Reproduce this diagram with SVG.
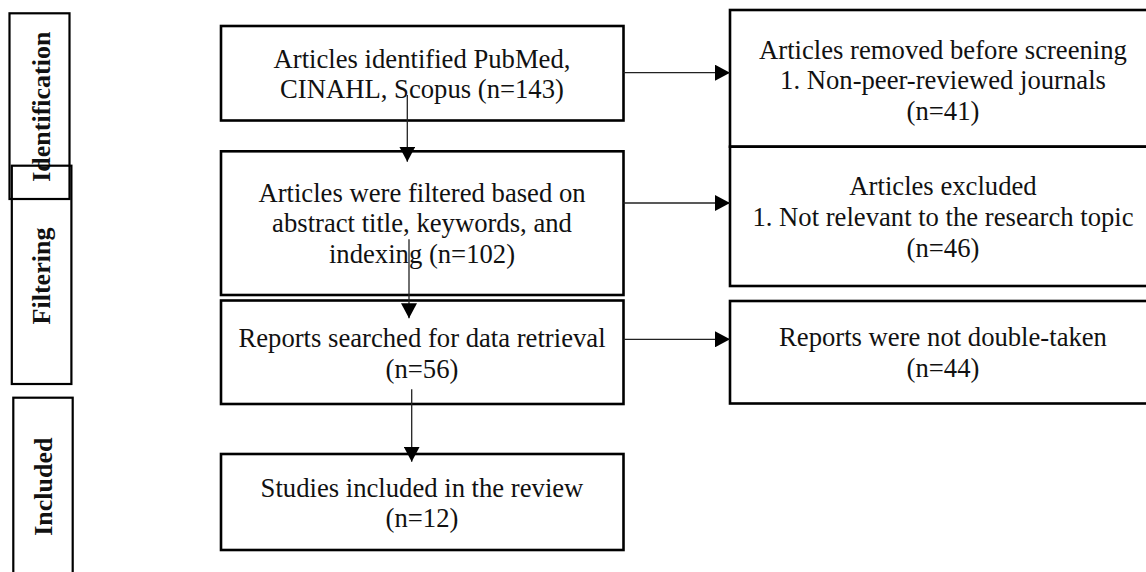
<svg xmlns="http://www.w3.org/2000/svg" width="1146" height="572" viewBox="0 0 1146 572">
  <style>
    .box { fill: none; stroke: #000; stroke-width: 2.6; }
    .lab { fill: none; stroke: #000; stroke-width: 2.2; }
    .t { font-family: "Liberation Serif", "Times New Roman", serif; font-size: 26.67px; fill: #111; text-anchor: middle; }
    .lt { font-family: "Liberation Serif", "Times New Roman", serif; font-size: 26px; font-weight: bold; fill: #111; text-anchor: middle; }
    .conn { stroke: #222; stroke-width: 1.3; fill: none; marker-end: url(#ah); }
  </style>
  <defs>
    <marker id="ah" markerUnits="userSpaceOnUse" markerWidth="16" markerHeight="16" refX="15" refY="8" orient="auto">
      <path d="M0,0 L15,8 L0,16 Z" fill="#000"/>
    </marker>
  </defs>
  <rect width="1146" height="572" fill="#fff"/>

  <g id="stage-identification">
    <rect class="lab" x="9.5" y="13.3" width="60" height="185.7"/>
    <text class="lt" transform="translate(50,106.7) rotate(-90)">Identification</text>
  </g>
  <g id="stage-filtering">
    <rect class="lab" x="11.8" y="165.7" width="59.6" height="218.3"/>
    <text class="lt" transform="translate(50,276) rotate(-90)">Filtering</text>
  </g>
  <g id="stage-included">
    <rect class="lab" x="13.3" y="397.7" width="59.4" height="190"/>
    <text class="lt" transform="translate(51.5,486.7) rotate(-90)">Included</text>
  </g>

  <g id="n-identified">
    <rect class="box" x="221" y="26" width="402.5" height="94.5"/>
    <text class="t" x="422" y="68">Articles identified PubMed,</text>
    <text class="t" x="422" y="98">CINAHL, Scopus (n=143)</text>
  </g>
  <g id="n-filtered">
    <rect class="box" x="221" y="151.3" width="402.5" height="143.7"/>
    <text class="t" x="422" y="201.5">Articles were filtered based on</text>
    <text class="t" x="422" y="232">abstract title, keywords, and</text>
    <text class="t" x="422" y="262.5">indexing (n=102)</text>
  </g>
  <g id="n-reports">
    <rect class="box" x="221" y="300.5" width="402.5" height="103.5"/>
    <text class="t" x="422" y="346.7">Reports searched for data retrieval</text>
    <text class="t" x="422" y="377.5">(n=56)</text>
  </g>
  <g id="n-included">
    <rect class="box" x="221" y="454" width="402.5" height="96"/>
    <text class="t" x="422" y="496.7">Studies included in the review</text>
    <text class="t" x="422" y="527.3">(n=12)</text>
  </g>

  <g id="n-removed">
    <rect class="box" x="730" y="10" width="425" height="136.7"/>
    <text class="t" x="943" y="59">Articles removed before screening</text>
    <text class="t" x="943" y="89">1. Non-peer-reviewed journals</text>
    <text class="t" x="943" y="119.5">(n=41)</text>
  </g>
  <g id="n-excluded">
    <rect class="box" x="730" y="146.7" width="425" height="139.3"/>
    <text class="t" x="943" y="195">Articles excluded</text>
    <text class="t" x="943" y="225.5">1. Not relevant to the research topic</text>
    <text class="t" x="943" y="256.5">(n=46)</text>
  </g>
  <g id="n-notdouble">
    <rect class="box" x="730" y="301" width="425" height="102.5"/>
    <text class="t" x="943" y="345.5">Reports were not double-taken</text>
    <text class="t" x="943" y="376.5">(n=44)</text>
  </g>

  <g id="connectors">
    <line class="conn" x1="623.5" y1="72.7" x2="730" y2="72.7"/>
    <line class="conn" x1="623.5" y1="203" x2="730" y2="203"/>
    <line class="conn" x1="623.5" y1="339.3" x2="730" y2="339.3"/>
    <line class="conn" x1="407.3" y1="95" x2="407.3" y2="161.7"/>
    <line class="conn" x1="409" y1="239.3" x2="409" y2="318.3"/>
    <line class="conn" x1="411.7" y1="389.3" x2="411.7" y2="461.7"/>
  </g>
</svg>
